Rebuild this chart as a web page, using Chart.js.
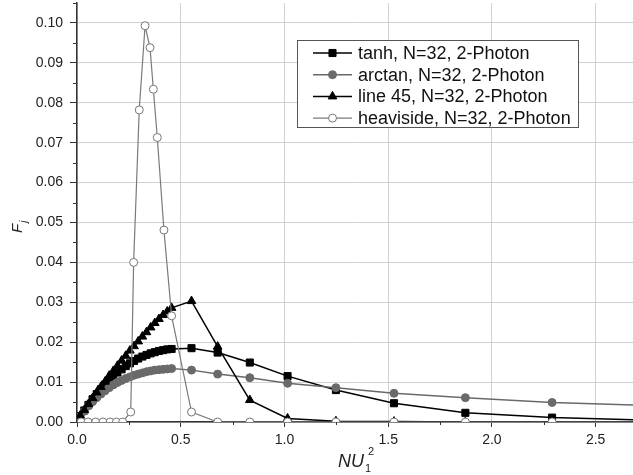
<!DOCTYPE html>
<html>
<head>
<meta charset="utf-8">
<script src="https://cdn.jsdelivr.net/npm/chart.js@4.4.1/dist/chart.umd.min.js"></script>
<style>
  html, body { margin: 0; padding: 0; background: #fff; }
  #grafica { display: block; }
</style>
</head>
<body>
<canvas id="grafica" width="633" height="475"></canvas>
<script>
// NU1^2 values shared by tanh, arctan and line 45
const nu = [0.015, 0.035, 0.055, 0.075, 0.095, 0.115, 0.135, 0.155, 0.175, 0.195, 0.215,
  0.235, 0.255, 0.275, 0.295, 0.315, 0.335, 0.355, 0.375, 0.395, 0.415, 0.435, 0.456,
  0.552, 0.678, 0.833, 1.015, 1.248, 1.528, 1.872, 2.290, 2.800];

const fTanh = [0.0015, 0.0029, 0.0043, 0.0057, 0.0070, 0.0082, 0.0094, 0.0105, 0.0115, 0.0124, 0.0132,
  0.0140, 0.0147, 0.0153, 0.0159, 0.0164, 0.0168, 0.0172, 0.0175, 0.0178, 0.0180, 0.0182, 0.0183,
  0.0185, 0.0174, 0.0149, 0.0115, 0.0080, 0.0047, 0.0023, 0.0011, 0.0004];

const fArctan = [0.0014, 0.0027, 0.0040, 0.0051, 0.0061, 0.0070, 0.0078, 0.0086, 0.0093, 0.0099, 0.0104,
  0.0109, 0.0113, 0.0117, 0.0120, 0.0123, 0.0126, 0.0128, 0.0130, 0.0131, 0.0132, 0.0133, 0.0134,
  0.0130, 0.0120, 0.0111, 0.0097, 0.0086, 0.0072, 0.0061, 0.0049, 0.0041];

const fLinea45 = [0.0016, 0.0030, 0.0045, 0.0060, 0.0074, 0.0088, 0.0101, 0.0116, 0.0128, 0.0141, 0.0154,
  0.0166, 0.0179, 0.0190, 0.0202, 0.0214, 0.0225, 0.0237, 0.0248, 0.0258, 0.0268, 0.0277, 0.0286,
  0.0303, 0.0189, 0.0055, 0.0009, 0.0002, 0.0001, 0.0000, 0.0000, 0.0000];

// heaviside has its own grid
const nuHeaviside = [0.020, 0.053, 0.090, 0.125, 0.160, 0.190, 0.220, 0.259, 0.273, 0.300, 0.328,
  0.352, 0.368, 0.387, 0.419, 0.456, 0.552, 0.678, 0.833, 1.015, 1.248, 1.528, 1.872, 2.290, 2.800];
const fHeaviside = [0, 0, 0, 0, 0, 0, 0, 0.0025, 0.0400, 0.0782, 0.0993,
  0.0938, 0.0834, 0.0713, 0.0481, 0.0266, 0.0025, 0, 0, 0, 0, 0, 0, 0, 0];

const nombres = [
  'tanh, N=32, 2-Photon',
  'arctan, N=32, 2-Photon',
  'line 45, N=32, 2-Photon',
  'heaviside, N=32, 2-Photon'
];

const xMin = 0, xMax = 2.68, xPaso = 0.5;
const yMin = 0, yMax = 0.105, yPaso = 0.01;

const puntos = (xs, ys) => xs.map((x, i) => ({ x: x, y: ys[i] }));

const fuente = '"Liberation Sans", Arial, sans-serif';

// minor ticks, legend box and axis titles with sub/superscripts
const decorado = {
  id: 'decorado',
  afterDraw(chart) {
    const ctx = chart.ctx;
    const sx = chart.scales.x;
    const sy = chart.scales.y;
    const area = chart.chartArea;

    ctx.save();
    ctx.strokeStyle = '#333';
    ctx.lineWidth = 1;
    ctx.beginPath();
    for (let v = xMin + xPaso / 2; v < xMax; v += xPaso) {
      const px = Math.round(sx.getPixelForValue(v)) + 0.5;
      ctx.moveTo(px, area.bottom);
      ctx.lineTo(px, area.bottom + 3);
    }
    for (let v = yMin + yPaso / 2; v < yMax; v += yPaso) {
      const py = Math.round(sy.getPixelForValue(v)) + 0.5;
      ctx.moveTo(area.left, py);
      ctx.lineTo(area.left - 4, py);
    }
    ctx.stroke();

    // legend
    const caja = { x: 297.5, y: 40.5, w: 281, h: 87 };
    ctx.fillStyle = '#fff';
    ctx.fillRect(caja.x, caja.y, caja.w, caja.h);
    ctx.strokeStyle = '#555';
    ctx.lineWidth = 1;
    ctx.strokeRect(caja.x, caja.y, caja.w, caja.h);

    chart.data.datasets.forEach((ds, i) => {
      const yy = 53 + i * 21.7;
      ctx.strokeStyle = ds.borderColor;
      ctx.lineWidth = ds.borderWidth;
      ctx.beginPath();
      ctx.moveTo(313, yy);
      ctx.lineTo(352, yy);
      ctx.stroke();
      ctx.fillStyle = ds.pointBackgroundColor;
      ctx.strokeStyle = ds.pointBorderColor;
      ctx.lineWidth = ds.pointBorderWidth;
      Chart.helpers.drawPoint(ctx, {
        pointStyle: ds.pointStyle,
        radius: ds.pointRadius,
        rotation: 0,
        borderWidth: ds.pointBorderWidth
      }, 332.5, yy);
      ctx.fillStyle = '#111';
      ctx.font = '18px ' + fuente;
      ctx.textAlign = 'left';
      ctx.textBaseline = 'middle';
      ctx.fillText(nombres[i], 358, yy + 1);
    });

    // x title: NU_1^2
    ctx.fillStyle = '#222';
    ctx.textAlign = 'left';
    ctx.textBaseline = 'alphabetic';
    ctx.font = 'italic 18px ' + fuente;
    ctx.fillText('NU', 338, 467);
    const anchoNU = ctx.measureText('NU').width;
    ctx.font = '11px ' + fuente;
    ctx.fillText('1', 338 + anchoNU + 1, 472);
    ctx.fillText('2', 338 + anchoNU + 4, 455);

    // y title: F_j
    ctx.translate(22, 233);
    ctx.rotate(-Math.PI / 2);
    ctx.font = 'italic 15px ' + fuente;
    ctx.fillText('F', 0, 0);
    const anchoF = ctx.measureText('F').width;
    ctx.font = 'italic 10px ' + fuente;
    ctx.fillText('j', anchoF + 1, 5);
    ctx.restore();
  }
};

const ctx = document.getElementById('grafica').getContext('2d');

new Chart(ctx, {
  type: 'scatter',
  data: {
    datasets: [
      {
        label: nombres[0],
        data: puntos(nu, fTanh),
        showLine: true,
        borderColor: '#000',
        backgroundColor: '#000',
        pointBackgroundColor: '#000',
        pointBorderColor: '#000',
        pointBorderWidth: 1,
        borderWidth: 1.5,
        pointStyle: 'rect',
        pointRadius: 5,
        order: 3
      },
      {
        label: nombres[1],
        data: puntos(nu, fArctan),
        showLine: true,
        borderColor: '#6a6a6a',
        backgroundColor: '#6a6a6a',
        pointBackgroundColor: '#6a6a6a',
        pointBorderColor: '#6a6a6a',
        pointBorderWidth: 1,
        borderWidth: 1.5,
        pointStyle: 'circle',
        pointRadius: 4,
        order: 2
      },
      {
        label: nombres[2],
        data: puntos(nu, fLinea45),
        showLine: true,
        borderColor: '#000',
        backgroundColor: '#000',
        pointBackgroundColor: '#000',
        pointBorderColor: '#000',
        pointBorderWidth: 1,
        borderWidth: 1.5,
        pointStyle: 'triangle',
        pointRadius: 5,
        order: 1
      },
      {
        label: nombres[3],
        data: puntos(nuHeaviside, fHeaviside),
        showLine: true,
        borderColor: '#7a7a7a',
        backgroundColor: '#fff',
        pointBackgroundColor: '#fff',
        pointBorderColor: '#777',
        pointBorderWidth: 1,
        borderWidth: 1.2,
        pointStyle: 'circle',
        pointRadius: 4,
        order: 0
      }
    ]
  },
  options: {
    responsive: false,
    animation: false,
    events: [],
    layout: { autoPadding: false, padding: { top: 3, right: 0, left: 0, bottom: 0 } },
    scales: {
      x: {
        type: 'linear',
        min: xMin,
        max: xMax,
        afterFit: s => { s.height = 53; s.paddingLeft = 0; s.paddingRight = 0; },
        ticks: {
          stepSize: xPaso,
          includeBounds: false,
          padding: 5,
          color: '#222',
          font: { size: 14, family: fuente },
          callback: v => v.toFixed(1)
        },
        grid: { color: '#d2d2d2', tickLength: 5, tickColor: '#333', lineWidth: 1 },
        border: { color: '#333', width: 1.5 }
      },
      y: {
        type: 'linear',
        min: yMin,
        max: yMax,
        afterFit: s => { s.width = 77; s.paddingTop = 0; s.paddingBottom = 0; },
        ticks: {
          stepSize: yPaso,
          includeBounds: false,
          padding: 7,
          color: '#222',
          font: { size: 14, family: fuente },
          callback: v => v.toFixed(2)
        },
        grid: { color: '#d2d2d2', tickLength: 7, tickColor: '#333', lineWidth: 1 },
        border: { color: '#333', width: 1.5 }
      }
    },
    plugins: {
      legend: { display: false },
      tooltip: { enabled: false }
    }
  },
  plugins: [decorado]
});
</script>
</body>
</html>
